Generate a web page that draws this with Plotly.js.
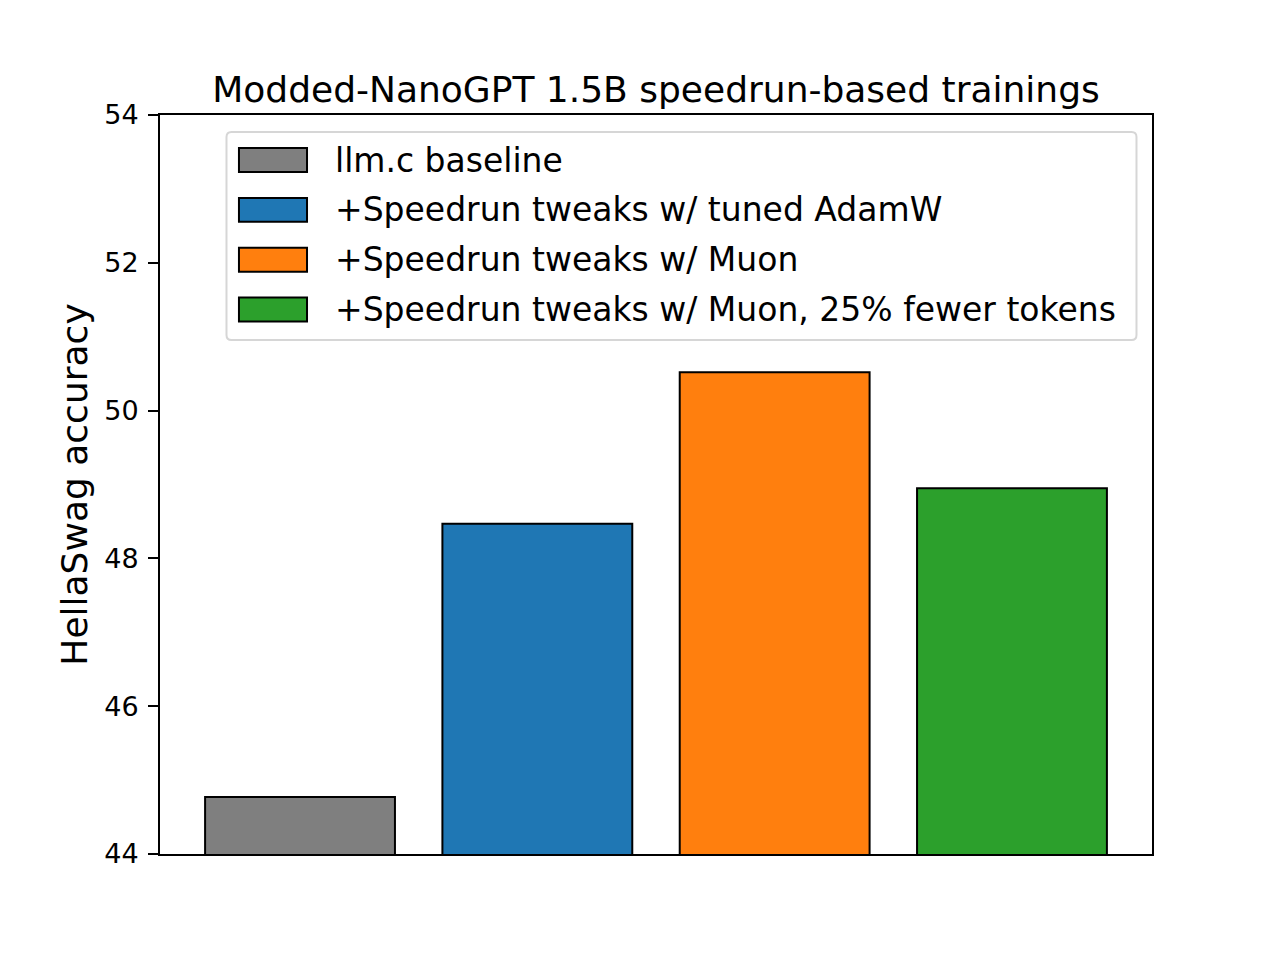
<!DOCTYPE html>
<html>
<head>
<meta charset="utf-8">
<script src="https://cdn.plot.ly/plotly-3.0.1.min.js"></script>
<style>
  html, body { margin: 0; padding: 0; background: #fff; }
  #chart { width: 1280px; height: 960px; }
</style>
</head>
<body>
<div id="chart"></div>
<script>
const labels = [
    'llm.c baseline',
    '+Speedrun tweaks w/ tuned AdamW',
    '+Speedrun tweaks w/ Muon',
    '+Speedrun tweaks w/ Muon, 25% fewer tokens'
];
const positions = [0, 1, 2, 3];
const accuracy = [44.77, 48.47, 50.52, 48.95];
const colors = ['#7f7f7f', '#1f77b4', '#ff7f0e', '#2ca02c'];
const yTicks = [44, 46, 48, 50, 52, 54];

const FONT = 'DejaVu Sans, sans-serif';

// legend drawn by hand so the patches look like matplotlib's
const LEG = { x0: 0.0796, x1: 0.1482, textX: 0.1742, top: 0.939, step: 0.0674, half: 0.0162 };
const shapes = [{
    type: 'path', xref: 'paper', yref: 'paper',
    xsizemode: 'pixel', ysizemode: 'pixel',
    xanchor: 0.5257, yanchor: 0.8363,
    path: 'M -450,-104 L 450,-104 Q 455,-104 455,-99 L 455,99 Q 455,104 450,104 ' +
          'L -450,104 Q -455,104 -455,99 L -455,-99 Q -455,-104 -450,-104 Z',
    line: { color: '#d6d6d6', width: 2 }, fillcolor: 'rgba(255,255,255,0.8)', layer: 'above'
}];
const annotations = [];
labels.forEach((lab, i) => {
    const yc = LEG.top - i * LEG.step;
    shapes.push({
        type: 'rect', xref: 'paper', yref: 'paper', layer: 'above',
        x0: LEG.x0, x1: LEG.x1, y0: yc - LEG.half, y1: yc + LEG.half,
        fillcolor: colors[i], line: { color: '#000', width: 2 }
    });
    annotations.push({
        xref: 'paper', yref: 'paper', x: LEG.textX, y: yc,
        xanchor: 'left', yanchor: 'middle', showarrow: false,
        text: lab, font: { family: FONT, size: 33, color: '#000' }
    });
});

const traces = [{
    type: 'bar', x: positions, y: accuracy, width: 0.8,
    marker: { color: colors, line: { color: '#000', width: 2 } },
    showlegend: false, hoverinfo: 'skip'
}];

const layout = {
    width: 1280, height: 960,
    paper_bgcolor: '#fff', plot_bgcolor: '#fff',
    font: { family: FONT, color: '#000' },
    margin: { l: 160, r: 128, t: 115, b: 106 },
    title: {
        text: 'Modded-NanoGPT 1.5B speedrun-based trainings',
        font: { family: FONT, size: 36, color: '#000' },
        x: 0.5, xref: 'paper', y: 1, yref: 'paper', yanchor: 'bottom', pad: { b: 13 }
    },
    xaxis: {
        range: [-0.59, 3.59], showticklabels: false, ticks: '', showgrid: false,
        zeroline: false, showline: true, mirror: true, linecolor: '#000', linewidth: 2
    },
    yaxis: {
        range: [44, 54], tickvals: yTicks, ticktext: yTicks.map(String),
        ticks: 'outside', ticklen: 10, tickwidth: 2, tickcolor: '#000',
        ticklabelstandoff: 4,
        tickfont: { family: FONT, size: 27, color: '#000' },
        showgrid: false, zeroline: false, showline: true, mirror: true,
        linecolor: '#000', linewidth: 2,
        title: { text: 'HellaSwag accuracy', font: { family: FONT, size: 36, color: '#000' }, standoff: 6 }
    },
    shapes: shapes,
    annotations: annotations
};

Plotly.newPlot('chart', traces, layout, { displayModeBar: false, staticPlot: true });
</script>
</body>
</html>
